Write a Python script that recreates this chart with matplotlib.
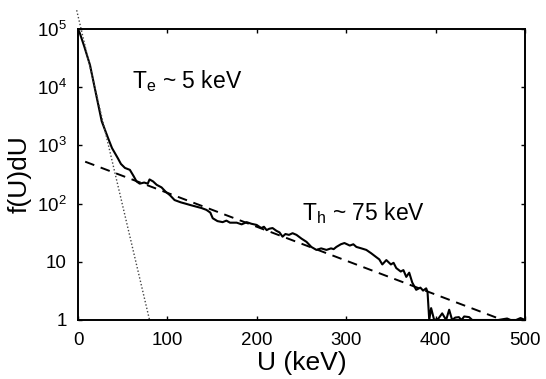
import matplotlib
matplotlib.use("Agg")
import matplotlib.pyplot as plt
from matplotlib.ticker import NullLocator

plt.rcParams['font.family'] = ['Liberation Sans', 'DejaVu Sans']
plt.rcParams['mathtext.default'] = 'regular'

# measured spectrum
u_meas = [0.5, 2, 7, 13.4, 20, 26.5, 33.5, 38, 44.6, 48, 52.5, 58, 62, 65.5, 69, 74,
          78, 80, 84, 88, 93.4, 98, 102.7, 108, 115, 120, 125, 133, 138, 143.6, 148,
          150.7, 156, 161.8, 166, 170, 177.5, 183, 186, 188.6, 194, 199.8, 205, 208,
          211, 214, 217.6, 222, 225.4, 228.8, 232, 236, 240, 244.4, 250, 255.6, 261,
          266.7, 272, 277.9, 283, 286, 289, 294, 298, 301, 304, 308, 311.4, 317, 322.5,
          328, 333.7, 337, 340.4, 344.9, 350, 353, 356, 361, 364, 367.2, 370.5, 373.9,
          378.3, 383, 386, 389.5, 391, 392.9, 395, 398.4, 403, 407.4, 411.8, 415.2,
          418.5, 422, 426, 429, 432, 437.5, 441, 470, 480, 484, 490, 495, 500]
f_meas = [9.5e4, 8.5e4, 5.0e4, 2.4e4, 7.8e3, 2.6e3, 1.35e3, 9.0e2, 6.0e2, 4.8e2,
          4.1e2, 3.8e2, 3.0e2, 2.4e2, 2.2e2, 2.3e2, 2.2e2, 2.6e2, 2.4e2, 2.1e2, 1.9e2,
          1.6e2, 1.4e2, 1.15e2, 1.05e2, 1.0e2, 95, 88, 84, 78, 70, 56, 50, 48, 51, 47,
          47, 44, 46, 48, 45, 43, 38, 40, 35, 37, 38, 34, 32, 27, 30, 29, 31, 29, 25,
          22, 18, 16, 17, 16, 17, 16.5, 18, 20, 21, 20, 19, 20, 18, 17, 16, 14, 12,
          11, 9, 10.7, 9, 9.6, 7.8, 6.8, 7.2, 5.5, 6.5, 4.4, 3.3, 3.6, 3.2, 3.5, 3.0,
          1.0, 1.6, 1.0, 1.05, 1.3, 1.0, 1.5, 1.0, 1.1, 1.12, 1.0, 1.15, 1.12, 1.0,
          1.0, 1.06, 1.0, 1.0, 1.08, 1.0]

# cold (Te ~ 5 keV) fit, dotted
u_cold = [-1.5, 80]
f_cold = [2.1e5, 1]

# hot (Th ~ 75 keV) fit, dashed
u_hot = [8, 475]
f_hot = [525, 1]

x_ticks = [0, 100, 200, 300, 400, 500]
y_ticks = [1, 10, 1e2, 1e3, 1e4, 1e5]
y_tick_labels = ['1', '10', '10$^2$', '10$^3$', '10$^4$', '10$^5$']

fig = plt.figure(figsize=(5.46, 3.79), dpi=100)
ax = fig.add_axes([0.1429, 0.1557, 0.8186, 0.7678])

ax.plot(u_meas, f_meas, color='black', lw=1.5)
ax.plot(u_hot, f_hot, color='black', lw=1.4, linestyle=(0, (5, 3.5)))
ax.plot(u_cold, f_cold, color='#444444', lw=1.0, linestyle=(0, (1, 1.5)), clip_on=False)

ax.set_yscale('log')
ax.set_xlim(0, 500)
ax.set_ylim(1, 1e5)
ax.set_xticks(x_ticks)
ax.set_yticks(y_ticks)
ax.set_yticklabels(y_tick_labels)
ax.yaxis.set_minor_locator(NullLocator())

for s in ax.spines.values():
    s.set_linewidth(1.4)
ax.tick_params(direction='in', length=3, width=1, top=True, right=True,
               labelsize=13.5)
ax.tick_params(axis='x', pad=9)
ax.tick_params(axis='y', pad=8)

ax.set_xlabel('U (keV)', fontsize=19, labelpad=1)
ax.set_ylabel('f(U)dU', fontsize=19, labelpad=4)

ax.text(60, 1.3e4, 'T$_e$ ~ 5 keV', fontsize=16.5, va='center', ha='left')
ax.text(250, 70, 'T$_h$ ~ 75 keV', fontsize=16.5, va='center', ha='left')

fig.savefig('out.png', dpi=100)
